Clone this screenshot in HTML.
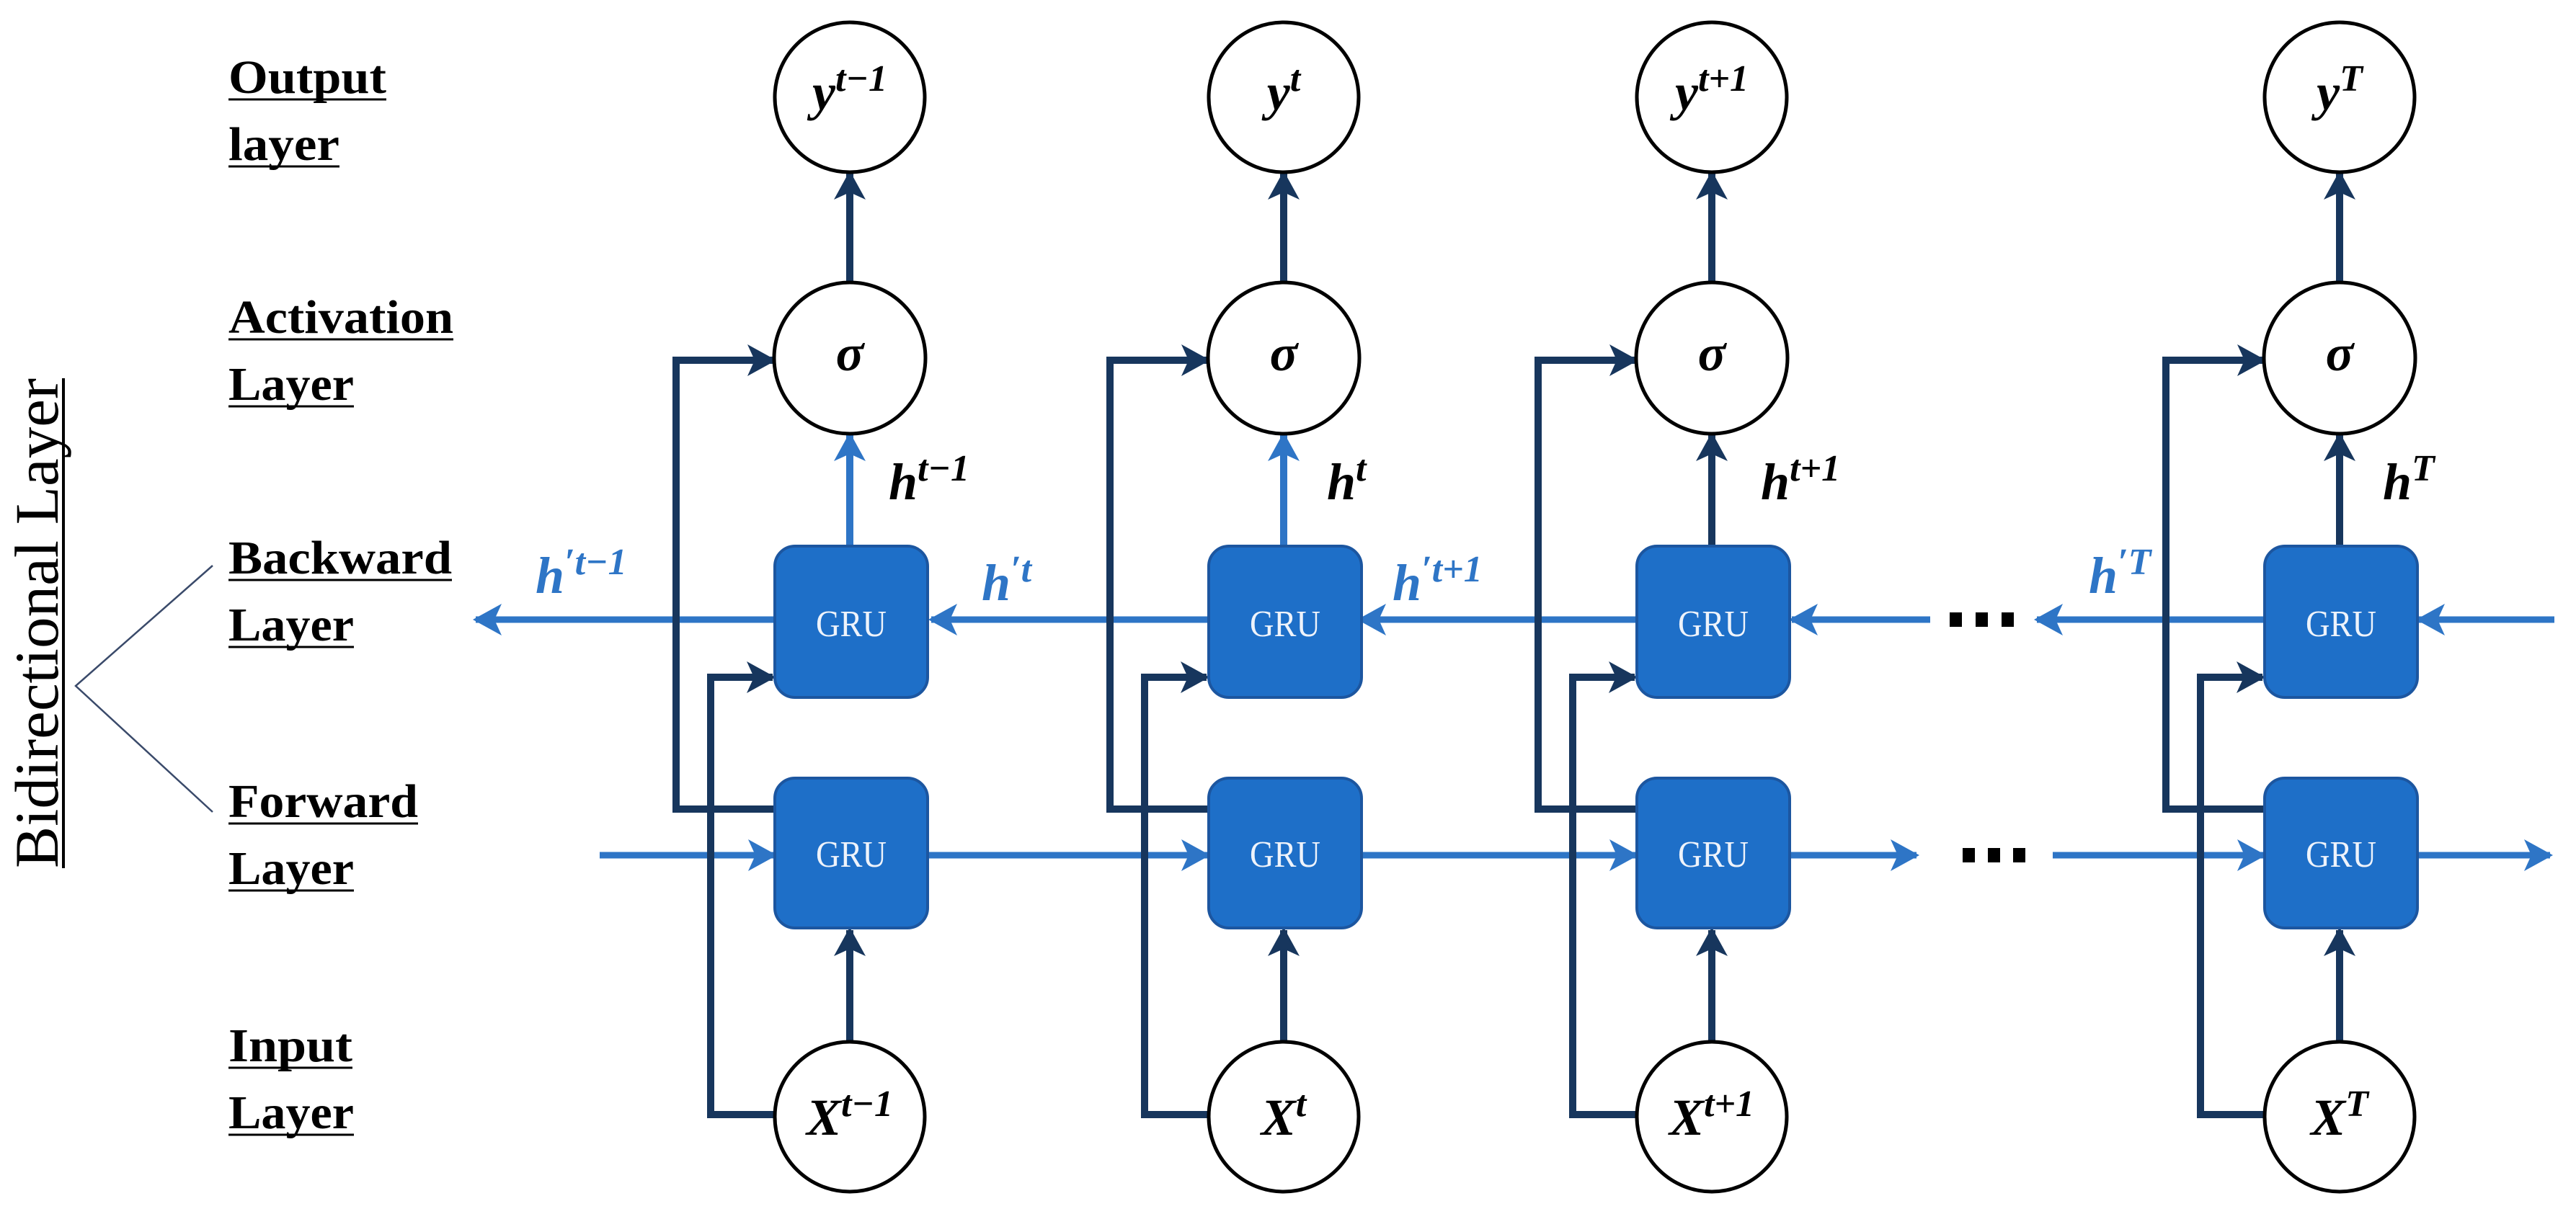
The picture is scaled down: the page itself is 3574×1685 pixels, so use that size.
<!DOCTYPE html>
<html><head><meta charset="utf-8"><style>
html,body{margin:0;padding:0;background:#fff;}
svg{display:block;}
.lbl{font-family:"Liberation Serif",serif;font-weight:bold;font-size:66px;fill:#000;}
.m{font-family:"Liberation Serif",serif;font-weight:bold;font-style:italic;fill:#000;}
.gru{font-family:"Liberation Serif",serif;font-size:52px;fill:#eef3fb;}
</style></head><body>
<svg width="3574" height="1685" viewBox="0 0 3574 1685" xmlns="http://www.w3.org/2000/svg">
<defs>
<marker id="ad" markerUnits="userSpaceOnUse" markerWidth="40" markerHeight="44" viewBox="0 0 10 11" refX="9" refY="5.5" orient="auto">
<path d="M0,0 L10,5.5 L0,11 L2.5,5.5 z" fill="#17365d"/></marker>
<marker id="ab" markerUnits="userSpaceOnUse" markerWidth="40" markerHeight="44" viewBox="0 0 10 11" refX="9" refY="5.5" orient="auto">
<path d="M0,0 L10,5.5 L0,11 L2.5,5.5 z" fill="#2e75c6"/></marker>
</defs>

<g class="lbl">
<text x="317" y="129" textLength="219" lengthAdjust="spacingAndGlyphs">Output</text>
<text x="317" y="222" textLength="154" lengthAdjust="spacingAndGlyphs">layer</text>
<text x="317" y="462" textLength="312" lengthAdjust="spacingAndGlyphs">Activation</text>
<text x="317" y="555" textLength="174" lengthAdjust="spacingAndGlyphs">Layer</text>
<text x="317" y="796" textLength="310" lengthAdjust="spacingAndGlyphs">Backward</text>
<text x="317" y="889" textLength="174" lengthAdjust="spacingAndGlyphs">Layer</text>
<text x="317" y="1134" textLength="263" lengthAdjust="spacingAndGlyphs">Forward</text>
<text x="317" y="1227" textLength="174" lengthAdjust="spacingAndGlyphs">Layer</text>
<text x="317" y="1473" textLength="172" lengthAdjust="spacingAndGlyphs">Input</text>
<text x="317" y="1566" textLength="174" lengthAdjust="spacingAndGlyphs">Layer</text>
</g>
<g stroke="#000" stroke-width="3">
<line x1="317" y1="138" x2="536" y2="138"/><line x1="317" y1="231" x2="471" y2="231"/>
<line x1="317" y1="471" x2="629" y2="471"/><line x1="317" y1="564" x2="491" y2="564"/>
<line x1="317" y1="805" x2="627" y2="805"/><line x1="317" y1="898" x2="491" y2="898"/>
<line x1="317" y1="1143" x2="580" y2="1143"/><line x1="317" y1="1236" x2="491" y2="1236"/>
<line x1="317" y1="1482" x2="489" y2="1482"/><line x1="317" y1="1575" x2="491" y2="1575"/>
</g>
<text transform="translate(80,1205) rotate(-90)" font-family="Liberation Serif,serif" font-size="86" textLength="680" lengthAdjust="spacingAndGlyphs">Bidirectional Layer</text>
<line x1="88" y1="525" x2="88" y2="1205" stroke="#000" stroke-width="4"/>
<polyline points="295,785 105,952 295,1127" fill="none" stroke="#3a4a6a" stroke-width="2.5"/>

<g stroke="#2e75c6" stroke-width="9" fill="none">
<line x1="1075" y1="860" x2="660" y2="860" marker-end="url(#ab)"/>
<line x1="1676" y1="860" x2="1292" y2="860" marker-end="url(#ab)"/>
<line x1="2270" y1="860" x2="1887" y2="860" marker-end="url(#ab)"/>
<line x1="2678" y1="860" x2="2486" y2="860" marker-end="url(#ab)"/>
<line x1="3141" y1="860" x2="2826" y2="860" marker-end="url(#ab)"/>
<line x1="3544" y1="860" x2="3356" y2="860" marker-end="url(#ab)"/>
<line x1="832" y1="1187" x2="1074" y2="1187" marker-end="url(#ab)"/>
<line x1="1285" y1="1187" x2="1675" y2="1187" marker-end="url(#ab)"/>
<line x1="1887" y1="1187" x2="2269" y2="1187" marker-end="url(#ab)"/>
<line x1="2481" y1="1187" x2="2659" y2="1187" marker-end="url(#ab)"/>
<line x1="2848" y1="1187" x2="3140" y2="1187" marker-end="url(#ab)"/>
<line x1="3352" y1="1187" x2="3538" y2="1187" marker-end="url(#ab)"/>
</g>
<g fill="#000">
<rect x="2705" y="850" width="17" height="20"/><rect x="2741" y="850" width="17" height="20"/><rect x="2777" y="850" width="17" height="20"/>
<rect x="2723" y="1177" width="17" height="20"/><rect x="2758" y="1177" width="17" height="20"/><rect x="2793" y="1177" width="17" height="20"/>
</g>

<g>
<g stroke="#17365d" stroke-width="10" fill="none">
<path d="M1074,1123 H938 V500 H1073" marker-end="url(#ad)"/>
<path d="M1075,1547 H986 V940 H1072" marker-end="url(#ad)"/>
<line x1="1179" y1="393" x2="1179" y2="241" marker-end="url(#ad)"/>
<line x1="1179" y1="1446" x2="1179" y2="1291" marker-end="url(#ad)"/>
</g>
<line x1="1179" y1="758" x2="1179" y2="604" stroke="#2e75c6" stroke-width="10" marker-end="url(#ab)"/>
<g stroke="#17365d" stroke-width="10" fill="none">
<path d="M1676,1123 H1540 V500 H1675" marker-end="url(#ad)"/>
<path d="M1677,1547 H1588 V940 H1674" marker-end="url(#ad)"/>
<line x1="1781" y1="393" x2="1781" y2="241" marker-end="url(#ad)"/>
<line x1="1781" y1="1446" x2="1781" y2="1291" marker-end="url(#ad)"/>
</g>
<line x1="1781" y1="758" x2="1781" y2="604" stroke="#2e75c6" stroke-width="10" marker-end="url(#ab)"/>
<g stroke="#17365d" stroke-width="10" fill="none">
<path d="M2270,1123 H2134 V500 H2269" marker-end="url(#ad)"/>
<path d="M2271,1547 H2182 V940 H2268" marker-end="url(#ad)"/>
<line x1="2375" y1="393" x2="2375" y2="241" marker-end="url(#ad)"/>
<line x1="2375" y1="1446" x2="2375" y2="1291" marker-end="url(#ad)"/>
<line x1="2375" y1="758" x2="2375" y2="604" marker-end="url(#ad)"/>
</g>
<g stroke="#17365d" stroke-width="10" fill="none">
<path d="M3141,1123 H3005 V500 H3140" marker-end="url(#ad)"/>
<path d="M3142,1547 H3053 V940 H3139" marker-end="url(#ad)"/>
<line x1="3246" y1="393" x2="3246" y2="241" marker-end="url(#ad)"/>
<line x1="3246" y1="1446" x2="3246" y2="1291" marker-end="url(#ad)"/>
<line x1="3246" y1="758" x2="3246" y2="604" marker-end="url(#ad)"/>
</g>

<g fill="#fff" stroke="#000" stroke-width="5">
<circle cx="1179" cy="135" r="104"/><circle cx="1179" cy="497" r="105"/><circle cx="1179" cy="1550" r="104"/>
<circle cx="1781" cy="135" r="104"/><circle cx="1781" cy="497" r="105"/><circle cx="1781" cy="1550" r="104"/>
<circle cx="2375" cy="135" r="104"/><circle cx="2375" cy="497" r="105"/><circle cx="2375" cy="1550" r="104"/>
<circle cx="3246" cy="135" r="104"/><circle cx="3246" cy="497" r="105"/><circle cx="3246" cy="1550" r="104"/>
</g>
<g fill="#1e6fc8" stroke="#1c56a0" stroke-width="4">
<rect x="1075" y="758" width="212" height="210" rx="28"/><rect x="1075" y="1080" width="212" height="208" rx="28"/>
<rect x="1677" y="758" width="212" height="210" rx="28"/><rect x="1677" y="1080" width="212" height="208" rx="28"/>
<rect x="2271" y="758" width="212" height="210" rx="28"/><rect x="2271" y="1080" width="212" height="208" rx="28"/>
<rect x="3142" y="758" width="212" height="210" rx="28"/><rect x="3142" y="1080" width="212" height="208" rx="28"/>
</g>
<g class="gru" text-anchor="middle">
<text x="1181" y="883" textLength="98" lengthAdjust="spacingAndGlyphs">GRU</text>
<text x="1181" y="1203" textLength="98" lengthAdjust="spacingAndGlyphs">GRU</text>
<text x="1783" y="883" textLength="98" lengthAdjust="spacingAndGlyphs">GRU</text>
<text x="1783" y="1203" textLength="98" lengthAdjust="spacingAndGlyphs">GRU</text>
<text x="2377" y="883" textLength="98" lengthAdjust="spacingAndGlyphs">GRU</text>
<text x="2377" y="1203" textLength="98" lengthAdjust="spacingAndGlyphs">GRU</text>
<text x="3248" y="883" textLength="98" lengthAdjust="spacingAndGlyphs">GRU</text>
<text x="3248" y="1203" textLength="98" lengthAdjust="spacingAndGlyphs">GRU</text>
</g>
</g>

<g class="m" font-size="72" text-anchor="middle">
<text x="1179" y="152">y<tspan font-size="52" dy="-26">t−1</tspan></text>
<text x="1781" y="152">y<tspan font-size="52" dy="-26">t</tspan></text>
<text x="2375" y="152">y<tspan font-size="52" dy="-26">t+1</tspan></text>
<text x="3246" y="152">y<tspan font-size="52" dy="-26">T</tspan></text>
<text x="1179" y="514">σ</text><text x="1781" y="514">σ</text><text x="2375" y="514">σ</text><text x="3246" y="514">σ</text>
<text x="1179" y="1575">X<tspan font-size="52" dy="-26">t−1</tspan></text>
<text x="1781" y="1575">X<tspan font-size="52" dy="-26">t</tspan></text>
<text x="2375" y="1575">X<tspan font-size="52" dy="-26">t+1</tspan></text>
<text x="3246" y="1575">X<tspan font-size="52" dy="-26">T</tspan></text>
</g>
<g class="m" font-size="72">
<text x="1233" y="693">h<tspan font-size="52" dy="-26">t−1</tspan></text>
<text x="1841" y="693">h<tspan font-size="52" dy="-26">t</tspan></text>
<text x="2443" y="693">h<tspan font-size="52" dy="-26">t+1</tspan></text>
<text x="3306" y="693">h<tspan font-size="52" dy="-26">T</tspan></text>
</g>
<g class="m" font-size="72" style="fill:#2e75c6">
<text x="743" y="823">h<tspan font-size="52" dy="-26">′t−1</tspan></text>
<text x="1362" y="833">h<tspan font-size="52" dy="-26">′t</tspan></text>
<text x="1932" y="833">h<tspan font-size="52" dy="-26">′t+1</tspan></text>
<text x="2898" y="823">h<tspan font-size="52" dy="-26">′T</tspan></text>
</g>
</svg>
</body></html>
